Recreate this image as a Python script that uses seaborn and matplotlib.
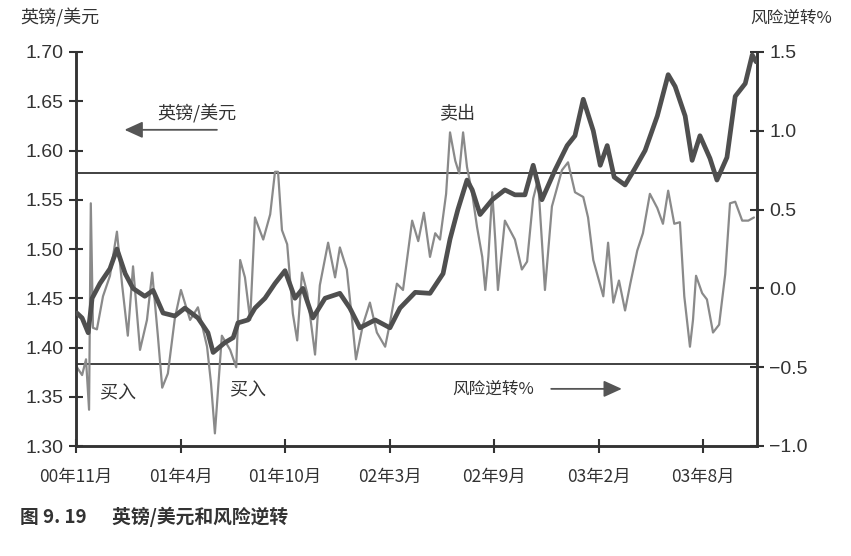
import matplotlib
matplotlib.use("Agg")
import matplotlib.pyplot as plt
import seaborn as sns
import pandas as pd

# ---------------- data ----------------
# x unit: weeks from the first tick (00年11月)
fx_week = [0.2, 1.4, 2.8, 3.7, 5.5, 7.8, 9.4, 11.3, 13.1, 15.8, 17.7, 20.0, 22.7, 25.0,
           28.0, 30.3, 31.5, 34.2, 36.1, 37.2, 39.5, 41.1, 43.4, 45.7, 48.0, 50.3, 52.1,
           54.4, 57.2, 60.6, 62.9, 65.2, 68.7, 72.1, 74.4, 77.9, 81.3, 84.3, 85.9, 87.7,
           89.8, 91.0, 92.8, 95.6, 98.5, 100.8, 103.1, 105.0, 107.0, 110.0, 112.8, 114.6,
           116.5, 118.8, 120.4, 122.0, 123.6, 126.1, 128.4, 130.7, 133.5, 136.0, 137.6,
           139.9, 141.5, 143.3, 145.6, 147.2, 149.5, 151.4, 153.7, 155.3, 156.2]
fx_rate = [1.435, 1.43, 1.415, 1.45, 1.465, 1.48, 1.50, 1.475, 1.46, 1.452, 1.458, 1.435,
           1.432, 1.44, 1.43, 1.415, 1.395, 1.405, 1.41, 1.425, 1.428, 1.44, 1.45, 1.465,
           1.478, 1.45, 1.46, 1.43, 1.45, 1.455, 1.44, 1.42, 1.428, 1.42, 1.44, 1.456,
           1.455, 1.475, 1.51, 1.54, 1.57, 1.56, 1.535, 1.55, 1.56, 1.555, 1.555, 1.585,
           1.55, 1.58, 1.605, 1.615, 1.652, 1.62, 1.585, 1.605, 1.573, 1.565, 1.582, 1.60,
           1.635, 1.677, 1.665, 1.635, 1.59, 1.615, 1.592, 1.57, 1.593, 1.655, 1.668,
           1.697, 1.69]

rr_week = [0.2, 1.4, 2.3, 3.0, 3.4, 3.9, 4.8, 6.2, 7.8, 9.4, 10.6, 11.9, 13.1, 14.7, 16.3,
           17.5, 18.8, 19.8, 21.1, 22.7, 24.1, 26.2, 28.0, 30.1, 31.0, 31.9, 33.5, 35.4,
           36.8, 37.7, 38.8, 40.0, 41.1, 43.0, 44.6, 45.7, 46.4, 47.3, 48.5, 49.8, 50.8,
           51.9, 53.1, 54.9, 56.0, 57.9, 59.5, 60.6, 62.2, 63.4, 64.3, 65.9, 67.5, 69.1,
           71.0, 72.1, 73.7, 75.1, 77.2, 78.6, 79.9, 81.3, 82.5, 83.6, 85.0, 85.9, 87.1,
           88.0, 88.9, 89.8, 91.0, 92.1, 93.3, 94.0, 94.7, 95.6, 96.3, 96.9, 98.5, 100.8,
           102.4, 103.6, 105.0, 106.1, 107.0, 107.7, 109.3, 111.6, 113.0, 114.6, 116.5,
           117.6, 118.8, 119.9, 121.1, 122.2, 123.4, 124.7, 126.1, 127.3, 128.9, 130.2,
           131.8, 133.5, 134.8, 136.0, 137.4, 138.7, 139.7, 141.0, 141.7, 142.4, 143.8,
           144.9, 146.3, 147.7, 149.1, 150.2, 151.4, 153.0, 154.4, 155.7]
rr_value = [-0.5, -0.55, -0.45, -0.77, 0.54, -0.25, -0.26, -0.05, 0.08, 0.36, 0.02, -0.3,
            0.14, -0.39, -0.2, 0.1, -0.3, -0.63, -0.54, -0.19, -0.01, -0.2, -0.12, -0.37,
            -0.6, -0.92, -0.3, -0.39, -0.5, 0.18, 0.07, -0.2, 0.45, 0.31, 0.47, 0.74, 0.74,
            0.37, 0.28, -0.16, -0.33, 0.1, -0.03, -0.42, 0.02, 0.29, 0.07, 0.26, 0.12, -0.2,
            -0.45, -0.23, -0.09, -0.28, -0.37, -0.22, 0.03, -0.01, 0.43, 0.3, 0.48, 0.2,
            0.35, 0.31, 0.6, 0.99, 0.81, 0.73, 0.99, 0.77, 0.6, 0.39, 0.2, -0.01, 0.2, 0.61,
            0.3, -0.01, 0.43, 0.31, 0.12, 0.17, 0.57, 0.69, 0.3, -0.01, 0.52, 0.75, 0.8,
            0.61, 0.58, 0.45, 0.18, 0.07, -0.05, 0.29, -0.09, 0.05, -0.14, 0.03, 0.24, 0.35,
            0.6, 0.51, 0.41, 0.62, 0.41, 0.42, -0.05, -0.37, -0.2, 0.08, -0.03, -0.07,
            -0.28, -0.23, 0.09, 0.54, 0.55, 0.43, 0.43, 0.45]

tick_week = [0, 24, 48, 72, 96, 120, 144]
tick_labels = ["00年11月", "01年4月", "01年10月", "02年3月", "02年9月", "03年2月", "03年8月"]
left_ticks = [1.30, 1.35, 1.40, 1.45, 1.50, 1.55, 1.60, 1.65, 1.70]
right_ticks = [-1.0, -0.5, 0.0, 0.5, 1.0, 1.5]
rr_upper = 0.735
rr_lower = -0.48

# ---------------- plot ----------------
sns.set_style("white")
plt.rcParams['font.family'] = ['Liberation Sans', 'Noto Sans CJK SC', 'DejaVu Sans']
cjk = ['Noto Sans CJK SC', 'DejaVu Sans']

fig = plt.figure(figsize=(8.51, 5.56), dpi=100)
ax = fig.add_axes([76/851, 1-446/556, (757-76)/851, (446-52)/556])
ax2 = ax.twinx()

fx_df = pd.DataFrame({"week": fx_week, "rate": fx_rate})
rr_df = pd.DataFrame({"week": rr_week, "rr": rr_value})

sns.lineplot(data=rr_df, x="week", y="rr", ax=ax2, color="#8a8a8a", linewidth=1.6,
             zorder=2)
sns.lineplot(data=fx_df, x="week", y="rate", ax=ax, color="#4f4f4f", linewidth=3.4,
             zorder=3)
ax.set_zorder(ax2.get_zorder() + 1)
ax.patch.set_visible(False)

ax2.axhline(rr_upper, color="#333333", linewidth=1.3, zorder=1)
ax2.axhline(rr_lower, color="#333333", linewidth=1.3, zorder=1)

ax.set_xlim(0, 156.4)
ax.set_ylim(1.30, 1.70)
ax2.set_ylim(-1.0, 1.5)
ax.set_xticks(tick_week)
ax.set_xticklabels(tick_labels, family=cjk, fontsize=12.5, color="#333333")
ax.set_yticks(left_ticks)
ax.set_yticklabels([f"{v:.2f}" for v in left_ticks], fontsize=14, color="#333333")
ax2.set_yticks(right_ticks)
ax2.set_yticklabels([f"{v:.1f}".replace("-", "\u2212") for v in right_ticks], fontsize=14,
                    color="#333333")
ax.set_xlabel("")
ax.set_ylabel("")
ax2.set_ylabel("")

for a in (ax, ax2):
    a.spines['top'].set_visible(False)
    for s in ('left', 'right', 'bottom'):
        a.spines[s].set_color("#333333")
        a.spines[s].set_linewidth(1.8)
ax.tick_params(axis='y', direction='inout', length=10, width=1.5, color="#333333", pad=4, left=True)
ax.tick_params(axis='x', direction='inout', length=10, width=1.5, color="#333333", pad=11, bottom=True)
ax2.tick_params(axis='y', direction='inout', length=10, width=1.5, color="#333333", pad=4, right=True)
ax.grid(False)
ax2.grid(False)

# axis titles
fig.text(20/851, 1-18/556, "英镑/美元", family=cjk, fontsize=13, color="#333333",
         ha="left", va="center")
fig.text(832/851, 1-18/556, "风险逆转%", family=cjk, fontsize=12, color="#333333",
         ha="right", va="center")

# annotations
arrow_props = dict(arrowstyle="-|>,head_length=1.1,head_width=0.5", color="#555555", lw=1.3)
ax.text(18.6, 1.637, "英镑/美元", family=cjk, fontsize=13, color="#333333", ha="left", va="center")
ax.annotate("", xy=(10.5, 1.621), xytext=(33, 1.621), arrowprops=arrow_props)
ax.text(87.7, 1.638, "卖出", family=cjk, fontsize=13, color="#333333", ha="center", va="center")
ax.text(5.5, 1.353, "买入", family=cjk, fontsize=13, color="#333333", ha="left", va="center")
ax.text(35.3, 1.357, "买入", family=cjk, fontsize=13, color="#333333", ha="left", va="center")
ax.text(86.5, 1.358, "风险逆转%", family=cjk, fontsize=12, color="#333333", ha="left", va="center")
ax.annotate("", xy=(126, 1.358), xytext=(108.5, 1.358), arrowprops=arrow_props)

fig.text(20/851, 1-517/556, "图 9. 19      英镑/美元和风险逆转", family=cjk, fontsize=13.5,
         fontweight="bold", color="#333333", ha="left", va="center")

fig.savefig("out.png", dpi=100)
